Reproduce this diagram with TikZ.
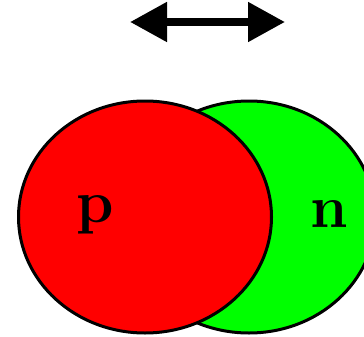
\documentclass[tikz,border=0pt]{standalone}
\usepackage{tikz}
\usetikzlibrary{arrows.meta,shapes.geometric}
\definecolor{protonred}{RGB}{255,0,0}
\definecolor{neutrongreen}{RGB}{0,255,0}
\begin{document}
\begin{tikzpicture}[x=1pt, y=-1pt,
  nucleon/.style={draw, ellipse, line width=3pt, inner sep=0pt, minimum width=253pt, minimum height=232pt},
  letter/.style={anchor=base, inner sep=0pt, font=\fontsize{60}{66}\selectfont\bfseries},
  arr/.style={{Triangle[length=37pt,width=38pt]}-{Triangle[length=37pt,width=38pt]}, line width=8pt}]
\clip (0,0) rectangle (364,337);
\node[nucleon, fill=neutrongreen] (n0) at (249,217) {};
\node[nucleon, fill=protonred] (p0) at (145,217) {};
\node[letter] (p) at (95,222) {p};
\node[letter] (n) at (329,227) {n};
\coordinate (a1) at (130,22);
\coordinate (a2) at (285,22);
\draw[arr] (a1) -- (a2);
\end{tikzpicture}
\end{document}
